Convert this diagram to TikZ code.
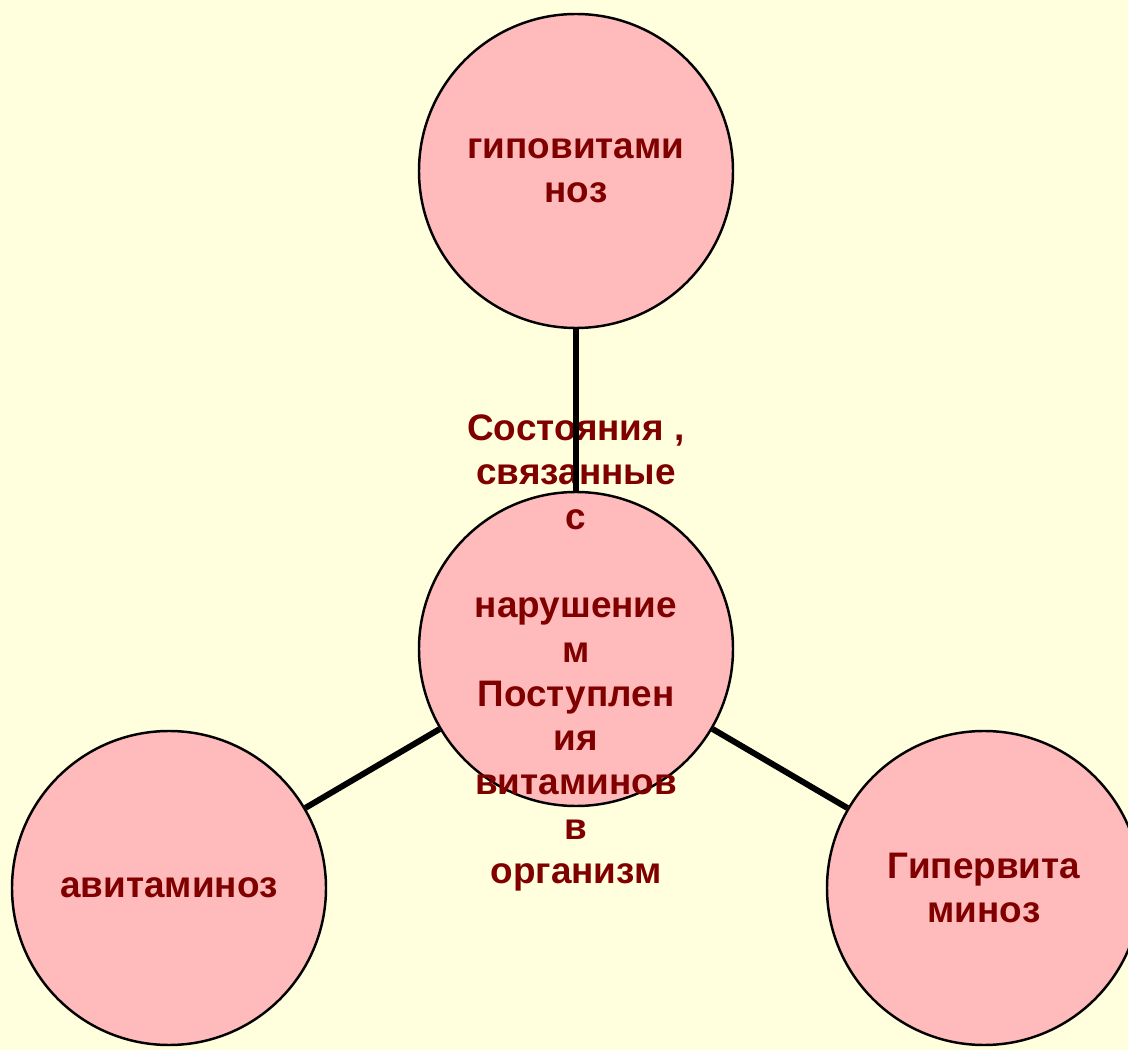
\documentclass[tikz,border=0pt]{standalone}
\usepackage{fontspec}
\setmainfont{Liberation Sans}
\usetikzlibrary{positioning}
\definecolor{myYellow}{RGB}{255,255,221}
\definecolor{myPink}{RGB}{255,187,187}
\definecolor{myDarkRed}{RGB}{128,0,0}

\begin{document}
\begin{tikzpicture}[
		bubble/.style={circle, draw=black, line width=0.7pt, fill=myPink, minimum size=3.14cm, inner sep=0pt,
			text=myDarkRed, font=\fontsize{10.5}{12.6}\selectfont\bfseries, align=center},
		bubbletxt/.style={text=myDarkRed, font=\fontsize{10.5}{12.6}\selectfont\bfseries, align=center, inner sep=0pt},
		link/.style={line width=1.7pt, black}
	]
	% Background
	\fill[myYellow] (0,0) rectangle (11.28,10.5);
	\useasboundingbox (0,0) rectangle (11.28,10.5);

	% Circles
	\node[bubble] (hypo) at (5.76,8.79) {гиповитами\\ноз};
	\node[bubble] (state) at (5.76,4.01) {};
	\node[bubble] (avit) at (1.69,1.62) {авитаминоз};
	\node[bubble] (hyper) at (9.84,1.62) {Гипервита\\миноз};
	\node[bubbletxt] (statetxt) at ([yshift=-0.04cm]state.center) {Состояния ,\\связанные\\с\\\mbox{}\\нарушение\\м\\Поступлен\\ия\\витаминов\\в\\организм};

	% Connectors
	\foreach \a in {hypo, avit, hyper}
		\draw[link] (state) -- (\a);
\end{tikzpicture}
\end{document}
